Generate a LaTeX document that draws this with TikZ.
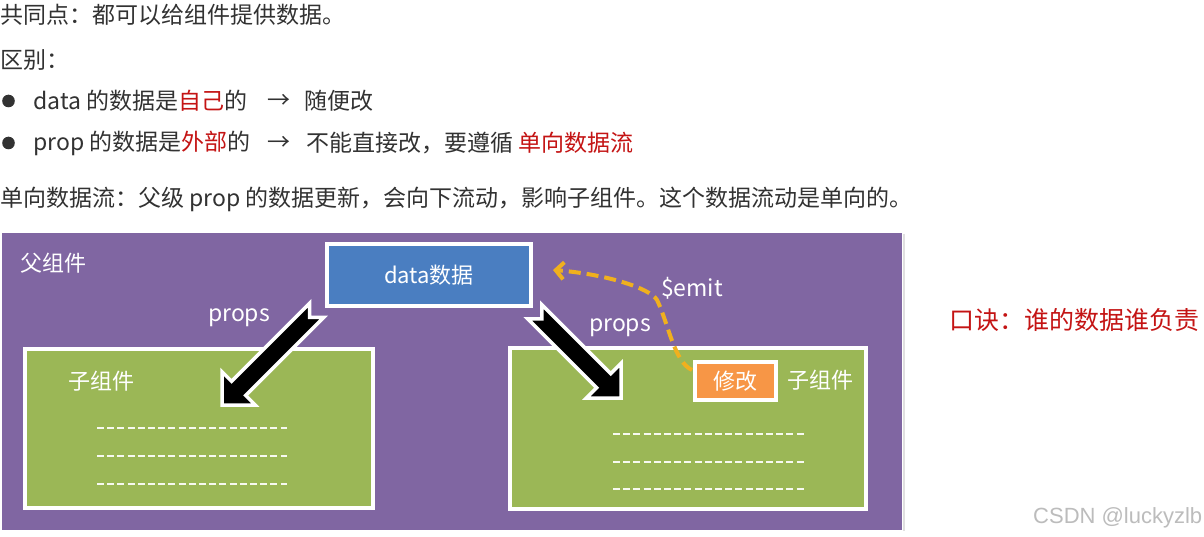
\documentclass[tikz,border=0pt]{standalone}
\usepackage{fontspec}
\setmainfont{Noto Sans CJK SC}
\newfontfamily\wmfont{Liberation Sans}
\usetikzlibrary{arrows.meta}
\definecolor{txtgray}{RGB}{50,50,50}
\definecolor{hired}{RGB}{196,20,20}
\definecolor{parentpurple}{RGB}{128,102,162}
\definecolor{databLue}{RGB}{74,126,193}
\definecolor{childgreen}{RGB}{155,183,86}
\definecolor{modorange}{RGB}{247,150,70}
\definecolor{emitgold}{RGB}{240,176,30}
\definecolor{wmgray}{RGB}{188,188,188}
\begin{document}
\begin{tikzpicture}[x=1pt,y=1pt,
  txt/.style={anchor=west,inner sep=0pt,font=\fontsize{23}{27}\selectfont,text=txtgray},
  lbl/.style={inner sep=0pt,font=\fontsize{22}{26}\selectfont,text=white},
  boxsty/.style={draw=white,line width=4pt,inner sep=0pt},
  dashline/.style={white!92!childgreen,line width=1.8pt,dash pattern=on 7pt off 3.2pt},
  fatarr/.style={fill=black,draw=white,line width=3.5pt,line join=miter},
  emitline/.style={emitgold,line width=4pt,dash pattern=on 12pt off 6pt,
     -{Straight Barb[length=8pt,width=17pt,line width=4pt]}}
]
\useasboundingbox (0,0) rectangle (1204,-537);
\fill[white] (0,0) rectangle (1204,-537);

% ---------- text above ----------
\node[txt] (l1) at (0,-15) {共同点：都可以给组件提供数据。};
\node[txt] (l2) at (0,-60) {区别：};
\fill[txtgray] (8.5,-101) circle (6.3);
\node[txt] (b1) at (33,-101) {data 的数据是\textcolor{hired}{自己}的};
\node[txt] (b1a) at (267,-101) {→};
\node[txt] (b1b) at (304,-101) {随便改};
\fill[txtgray] (8.5,-143) circle (6.3);
\node[txt] (b2) at (33,-143) {prop 的数据是\textcolor{hired}{外部}的};
\node[txt] (b2a) at (267,-143) {→};
\node[txt] (b2b) at (306,-143) {不能直接改，要遵循 \textcolor{hired}{单向数据流}};
\node[txt] (l5) at (0,-199) {单向数据流：父级 prop 的数据更新，会向下流动，影响子组件。这个数据流动是单向的。};

% ---------- diagram ----------
\fill[parentpurple] (2,-233) rectangle (902,-530);
\draw[black!12,line width=2pt] (904,-234) -- (904,-531);
\node[lbl] (parent) at (53,-263) {父组件};

\node[boxsty,fill=databLue,minimum width=204pt,minimum height=62pt,lbl] (data) at (429,-275) {data数据};

\node[boxsty,fill=childgreen,minimum width=348pt,minimum height=159pt] (childL) at (199,-428.5) {};
\node[boxsty,fill=childgreen,minimum width=356pt,minimum height=161pt] (childR) at (688,-428.5) {};

\node[lbl] (childLlbl) at (101,-381) {子组件};
\draw[dashline] (97,-428) -- (287,-428);
\draw[dashline] (97,-456) -- (287,-456);
\draw[dashline] (97,-484) -- (287,-484);

\node[boxsty,fill=modorange,minimum width=81pt,minimum height=38pt,lbl] (mod) at (735.5,-381) {修改};
\node[lbl] (childRlbl) at (820,-380) {子组件};
\draw[dashline] (613,-434) -- (804,-434);
\draw[dashline] (613,-462) -- (804,-462);
\draw[dashline] (613,-489) -- (804,-489);

% fat props arrows
\draw[fatarr,shift={(222,-405)},rotate=225]
  (0,0) -- (-23.5,23.5) -- (-23.5,10) -- (-134,10) -- (-124,0) -- (-134,-10) -- (-23.5,-10) -- (-23.5,-23.5) -- cycle;
\draw[fatarr,shift={(621,-398)},rotate=-45]
  (0,0) -- (-24.5,24.5) -- (-24.5,10) -- (-122,10) -- (-112,0) -- (-122,-10) -- (-24.5,-10) -- (-24.5,-24.5) -- cycle;
\node[lbl,font=\fontsize{23}{27}\selectfont] (propsL) at (239,-318) {props};
\node[lbl,font=\fontsize{23}{27}\selectfont] (propsR) at (620,-328) {props};

% $emit
\coordinate (emitA) at (692,-370);
\coordinate (emitB) at (553,-270);
\draw[emitline] (emitA) .. controls (674,-362) and (668,-322) .. (657,-300)
   .. controls (650,-288) and (605,-274) .. (emitB);
\node[lbl,font=\fontsize{23}{27}\selectfont] (emit) at (692,-288) {\$emit};

% right side
\node[anchor=west,inner sep=0pt,font=\fontsize{25}{29}\selectfont,text=hired] (slogan) at (949,-320) {口诀：谁的数据谁负责};
\node[anchor=west,inner sep=0pt,font=\wmfont\fontsize{22}{26}\selectfont,text=wmgray] (wm) at (1033,-518) {CSDN @luckyzlb};
\end{tikzpicture}
\end{document}
